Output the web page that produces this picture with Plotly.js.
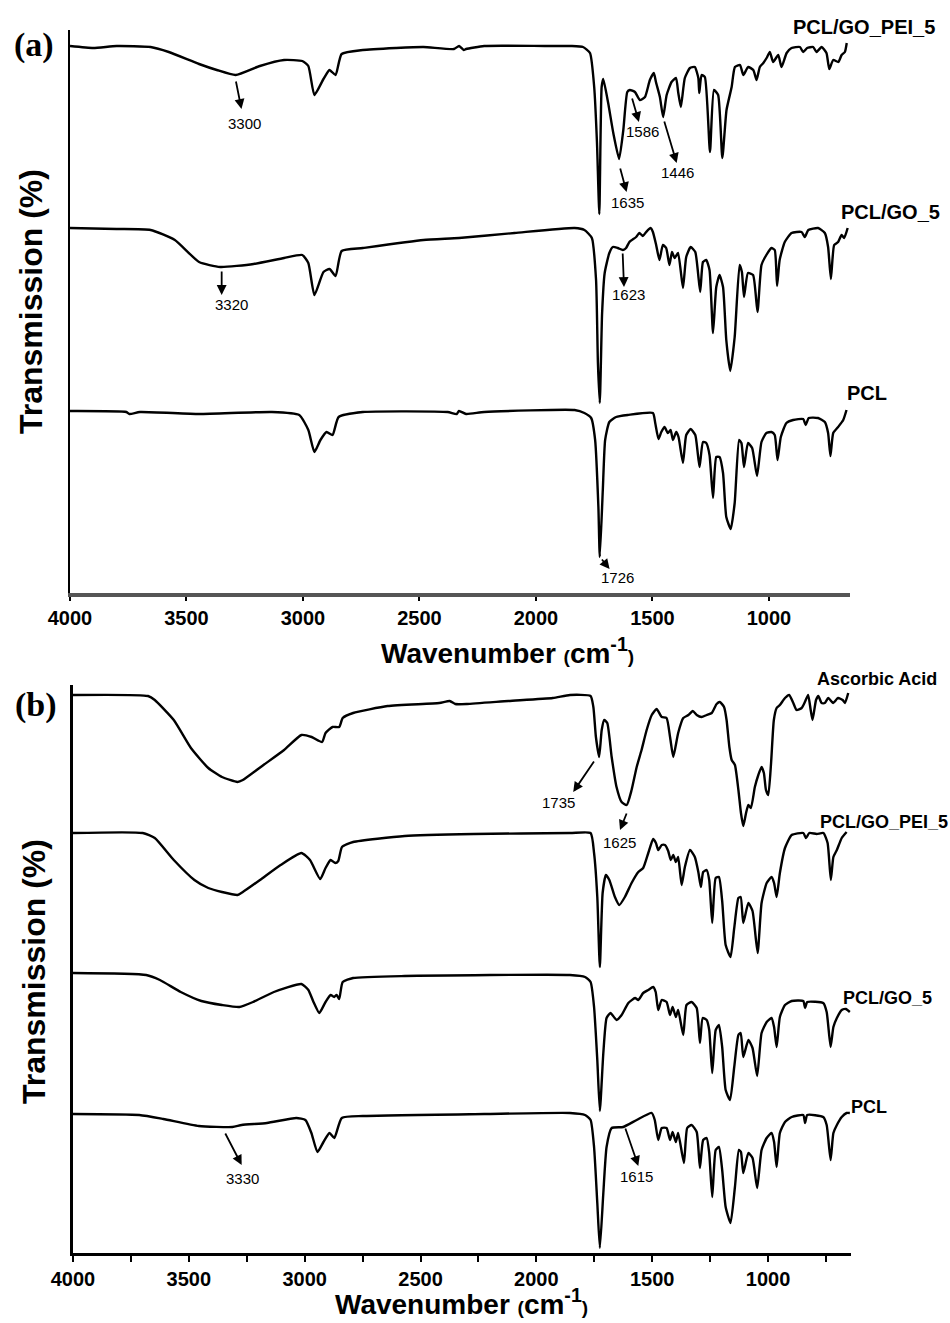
<!DOCTYPE html>
<html>
<head>
<meta charset="utf-8">
<script src="https://cdn.plot.ly/plotly-3.0.1.min.js"></script>
<style>html,body{margin:0;padding:0;background:#fff}#chart{width:950px;height:1323px}</style>
</head>
<body>
<div id="chart"></div>
<script>
// ---------- DATA (wavenumber in cm-1, transmission in offset arbitrary units) ----------
// Panel (a)
const wnA_PEI = [4000,3900,3800,3654,3576,3446,3370,3289,3185,3081,3003,2977,2951,2912,2886,2860,2834,2743,2600,2483,2352,2330,2310,2300,2222,1962,1850,1798,1768,1750,1738,1728,1718,1711,1690,1668,1643,1625,1608,1597,1575,1554,1532,1511,1494,1485,1468,1454,1439,1418,1399,1389,1378,1361,1339,1318,1303,1299,1289,1275,1253,1236,1218,1200,1182,1160,1146,1124,1110,1089,1067,1053,1039,1024,1010,996,982,960,946,924,903,867,853,836,810,796,774,753,741,724,702,688,674,666];
const tA_PEI  = [54.7,54.5,54.7,54.6,54.1,52.9,52.3,51.8,52.7,53.3,53.2,52.7,49.8,51.4,52.3,51.8,53.9,54.3,54.5,54.6,54.4,54.7,54.3,54.4,54.7,54.7,54.7,54.6,54.0,50.6,45.0,37.9,50.6,51.4,49.0,46.0,43.4,46.3,50.1,50.3,50.1,49.3,49.6,51.3,52.0,51.1,49.6,47.6,49.8,51.1,51.5,50.0,48.6,51.5,52.5,52.6,51.5,50.0,51.8,51.6,44.1,50.3,49.8,43.5,48.3,50.6,52.6,52.8,51.8,52.6,52.3,51.3,52.6,53.0,53.5,54.1,53.1,53.8,52.6,54.0,54.5,54.6,54.1,54.5,54.6,54.1,54.6,54.0,52.4,53.3,53.1,53.8,54.1,55.0];

const wnA_GO = [4000,3800,3654,3550,3446,3355,3212,3081,3003,2977,2951,2912,2886,2860,2834,2743,2483,2330,2092,1834,1792,1760,1742,1734,1726,1716,1705,1685,1670,1649,1627,1613,1599,1570,1556,1541,1527,1508,1498,1484,1470,1455,1441,1427,1416,1405,1390,1369,1355,1336,1316,1295,1283,1269,1255,1240,1226,1212,1197,1183,1166,1147,1126,1116,1107,1090,1068,1049,1032,1011,989,975,965,954,932,903,860,846,831,789,760,746,734,720,703,688,677,662];
const tA_GO  = [36.5,36.4,36.3,35.3,33.1,32.6,32.9,33.5,33.8,33.0,29.8,32.1,32.4,31.7,34.2,34.5,35.3,35.5,36.0,36.5,36.3,35.5,31.3,23.0,19.0,28.0,32.0,34.0,34.6,34.5,34.3,34.5,35.1,35.6,36.0,35.7,36.1,36.5,36.1,34.8,33.3,34.8,34.5,32.8,34.1,33.5,34.0,30.5,33.6,34.6,34.1,30.1,33.1,33.3,32.3,26.0,30.6,31.8,30.6,25.3,22.2,25.6,32.8,32.1,29.6,32.0,31.8,28.1,32.8,33.8,34.5,34.3,30.7,33.3,35.1,36.0,36.1,35.6,36.3,36.5,36.0,34.6,31.4,34.8,35.1,35.8,35.5,36.5];

const wnA_PCL = [4000,3758,3745,3700,3446,3133,3016,2977,2951,2925,2899,2873,2847,2743,2379,2340,2330,2300,2222,1834,1792,1763,1746,1732,1726,1713,1703,1685,1656,1606,1498,1488,1474,1462,1448,1434,1422,1412,1398,1388,1369,1355,1336,1316,1298,1283,1269,1255,1240,1226,1212,1197,1183,1164,1147,1128,1118,1107,1090,1072,1051,1032,1011,989,975,963,949,925,896,853,842,829,789,760,746,736,724,703,681,667];
const tA_PCL  = [18.2,18.1,17.9,18.1,17.9,18.1,17.8,16.3,14.1,15.3,16.1,15.8,17.6,18.1,18.1,17.9,18.2,17.9,18.1,18.3,18.0,17.5,15.3,8.6,3.6,10.3,15.3,17.1,17.6,17.8,18.0,17.0,15.4,16.1,16.6,16.0,16.3,15.3,16.1,15.6,13.0,15.8,16.4,15.8,12.6,15.1,15.0,13.8,9.5,13.6,13.6,12.0,7.6,6.4,9.0,15.3,15.0,12.6,15.0,14.5,11.7,15.1,16.0,16.1,15.8,13.3,15.6,17.0,17.3,17.4,16.8,17.5,17.5,17.1,16.0,13.7,16.0,16.6,17.3,18.3];

// Panel (b)
const wnB_AA = [4000,3676,3647,3565,3491,3416,3357,3290,3267,3178,3089,3014,2970,2925,2910,2880,2851,2836,2791,2642,2419,2374,2350,2300,2121,1929,1855,1766,1754,1743,1729,1718,1707,1694,1675,1654,1632,1610,1589,1567,1546,1524,1502,1481,1459,1438,1423,1409,1388,1366,1344,1325,1308,1287,1265,1243,1222,1208,1190,1179,1167,1157,1143,1128,1117,1107,1095,1085,1074,1057,1042,1028,1018,1009,999,987,975,963,949,927,909,891,877,855,841,827,816,808,793,783,769,755,740,719,698,678,668,654];
const tB_AA  = [55.8,55.7,55.3,53.3,50.5,48.5,47.6,47.1,47.3,48.8,50.3,51.8,51.6,51.1,52.0,52.6,52.6,53.5,54.0,54.7,55.0,55.2,54.9,54.9,55.2,55.5,55.8,55.7,54.6,51.6,49.6,52.3,53.3,53.0,49.6,46.6,45.1,44.8,46.3,48.6,50.3,52.3,53.8,54.4,53.6,53.5,51.6,49.6,52.0,53.5,53.8,54.2,53.8,53.6,53.8,54.0,54.9,55.1,54.6,53.3,50.6,49.3,48.8,46.3,44.0,42.7,44.0,44.8,44.5,46.6,47.8,48.6,48.0,46.3,45.8,49.0,53.3,54.5,54.8,55.5,55.8,55.0,54.3,54.5,55.1,55.8,54.3,53.3,55.3,55.7,55.0,55.0,55.5,55.0,55.5,55.3,55.0,56.0];

const wnB_PEI = [4000,3699,3647,3565,3476,3416,3357,3290,3267,3193,3104,3014,2977,2933,2910,2888,2868,2855,2839,2791,2568,2270,1855,1766,1751,1737,1726,1714,1700,1685,1661,1642,1618,1589,1560,1539,1517,1496,1484,1474,1459,1445,1431,1420,1409,1398,1388,1373,1359,1337,1316,1301,1290,1280,1265,1254,1241,1226,1212,1198,1183,1162,1146,1128,1118,1107,1085,1067,1045,1028,1006,985,974,963,949,927,898,848,836,822,790,761,743,729,718,703,682,661];
const tB_PEI  = [42.0,42.0,41.5,39.3,37.3,36.5,36.1,35.8,36.1,37.3,38.8,40.0,39.3,37.4,38.5,39.3,39.0,39.2,40.6,41.1,41.7,41.9,42.0,42.0,40.0,35.6,28.6,36.0,37.8,37.3,35.6,34.8,35.6,37.0,38.1,38.5,40.0,41.4,41.0,40.3,40.8,40.8,40.2,39.3,39.8,39.1,39.6,36.8,38.6,40.3,39.6,38.1,36.6,38.1,38.3,37.3,33.0,37.5,37.6,35.2,30.8,29.6,32.5,35.5,35.6,33.0,35.0,34.2,30.0,35.0,37.0,37.6,37.0,35.6,38.0,40.5,41.8,42.0,41.5,42.0,41.9,42.0,41.0,37.3,39.6,40.3,41.5,42.1];

const wnB_GO = [4000,3684,3625,3535,3446,3357,3282,3223,3133,3014,2984,2962,2937,2910,2888,2873,2862,2851,2836,2791,2568,1855,1790,1766,1751,1737,1726,1711,1697,1680,1654,1632,1603,1574,1560,1539,1517,1496,1485,1474,1459,1438,1423,1412,1398,1388,1366,1352,1330,1308,1294,1282,1265,1254,1241,1226,1212,1198,1183,1164,1146,1128,1118,1107,1085,1067,1047,1028,1006,985,974,963,949,927,898,848,840,831,762,747,730,718,703,682,664,647];
const tB_GO  = [28.0,27.8,27.3,26.1,25.2,24.8,24.6,25.1,26.1,26.9,26.3,25.1,24.0,25.1,25.8,25.6,25.8,25.4,27.1,27.5,27.7,27.8,27.6,27.1,24.6,19.3,14.2,20.0,23.5,24.0,23.3,23.8,25.0,25.5,25.3,26.0,26.3,26.6,26.1,24.3,25.3,25.1,23.8,24.6,23.6,24.3,21.8,24.8,25.1,24.5,21.0,23.5,23.3,22.3,18.0,22.3,22.8,20.6,16.3,15.3,18.6,21.8,22.0,19.6,21.3,20.5,17.7,22.0,23.1,23.5,22.6,20.6,23.6,24.8,25.2,25.2,24.5,25.1,25.0,24.1,20.6,22.6,23.5,24.3,24.4,24.1];

const wnB_PCL = [4000,3714,3610,3457,3312,3272,3163,3036,2997,2971,2945,2919,2893,2872,2840,2749,2225,1855,1790,1766,1751,1737,1726,1711,1697,1675,1625,1567,1502,1489,1474,1459,1438,1423,1412,1398,1388,1363,1349,1330,1308,1294,1280,1265,1254,1241,1226,1212,1198,1183,1162,1143,1126,1117,1107,1085,1067,1047,1028,1006,985,974,963,949,927,898,848,840,831,762,747,730,718,703,682,661,647];
const tB_PCL  = [13.9,13.8,13.4,12.7,12.6,12.8,13.0,13.5,13.3,12.0,10.1,11.1,12.0,11.5,13.5,13.7,13.9,14.0,13.8,13.3,10.6,5.0,0.5,6.0,10.6,12.5,12.6,13.3,14.0,13.3,11.3,12.5,12.5,11.3,12.1,11.1,12.0,9.0,12.5,12.8,12.1,8.5,11.3,11.5,10.0,5.6,10.3,10.6,8.3,4.6,3.0,6.6,10.3,10.1,8.0,10.0,9.5,6.5,10.3,11.5,12.0,11.1,8.6,12.0,13.1,13.6,13.8,13.0,13.8,13.6,12.8,9.3,12.0,12.8,13.6,14.0,14.0];

const namesA = ['PCL/GO_PEI_5', 'PCL/GO_5', 'PCL'];
const namesB = ['Ascorbic Acid', 'PCL/GO_PEI_5', 'PCL/GO_5', 'PCL'];
const peakTextA = ['3300', '3320', '1635', '1586', '1446', '1623', '1726'];
const peakTextB = ['1735', '1625', '3330', '1615'];

// ---------- LAYOUT CONFIG ----------
const FW = 950, FH = 1323;
const px = x => x / FW, py = y => 1 - y / FH;
const SANS = 'Liberation Sans, Arial, sans-serif';
const SERIF = 'Liberation Serif, Times New Roman, serif';

const lineStyle = {color: '#000', width: 2.4, shape: 'spline', smoothing: 0.5};
const traces = [];
[[wnA_PEI, tA_PEI], [wnA_GO, tA_GO], [wnA_PCL, tA_PCL]].forEach((s, i) => {
  traces.push({x: s[0], y: s[1], type: 'scatter', mode: 'lines', name: namesA[i], line: lineStyle, xaxis: 'x', yaxis: 'y', hoverinfo: 'skip'});
});
[[wnB_AA, tB_AA], [wnB_PEI, tB_PEI], [wnB_GO, tB_GO], [wnB_PCL, tB_PCL]].forEach((s, i) => {
  traces.push({x: s[0], y: s[1], type: 'scatter', mode: 'lines', name: namesB[i], line: lineStyle, xaxis: 'x2', yaxis: 'y2', hoverinfo: 'skip'});
});

// arrow geometry: [tailX, tailY, headX, headY, textX, textY]
const arrowsA = [
  [3289, 51.3, 3264, 48.4, 3250, 46.9],
  [3349, 32.3, 3349, 29.8, 3305, 28.8],
  [1640, 42.6, 1611, 40.1, 1608, 39.0],
  [1589, 49.6, 1558, 47.1, 1541, 46.1],
  [1451, 47.3, 1396, 43.0, 1394, 42.0],
  [1628, 34.1, 1622, 30.6, 1604, 29.8],
  [1722, 3.5, 1684, 2.4, 1651, 1.5]
];
const arrowsB = [
  [1747, 49.3, 1841, 46.1, 1905, 45.1],
  [1608, 44.1, 1639, 42.3, 1643, 41.1],
  [3346, 12.1, 3272, 8.8, 3267, 7.5],
  [1618, 12.6, 1560, 8.7, 1566, 7.7]
];

const ann = [];
function addArrows(list, labels, xr, yr) {
  list.forEach((a, i) => {
    ann.push({xref: xr, yref: yr, axref: xr, ayref: yr, x: a[2], y: a[3], ax: a[0], ay: a[1],
      text: '', showarrow: true, arrowhead: 2, arrowsize: 1.1, arrowwidth: 1.8, arrowcolor: '#000', standoff: 0, startstandoff: 0});
    ann.push({xref: xr, yref: yr, x: a[4], y: a[5], text: labels[i], showarrow: false,
      xanchor: 'center', yanchor: 'middle', font: {family: SANS, size: 15, color: '#000'}});
  });
}
addArrows(arrowsA, peakTextA, 'x', 'y');
addArrows(arrowsB, peakTextB, 'x2', 'y2');

// series labels [x, y] in pixels
const labPosA = [[864, 27], [890, 212], [867, 393]];
const labPosB = [[877, 679], [884, 822], [887, 998], [869, 1107]];
namesA.forEach((n, i) => ann.push({xref: 'paper', yref: 'paper', x: px(labPosA[i][0]), y: py(labPosA[i][1]), text: n, showarrow: false,
  xanchor: 'center', yanchor: 'middle', font: {family: SANS, size: 20, color: '#000', weight: 'bold'}}));
namesB.forEach((n, i) => ann.push({xref: 'paper', yref: 'paper', x: px(labPosB[i][0]), y: py(labPosB[i][1]), text: n, showarrow: false,
  xanchor: 'center', yanchor: 'middle', font: {family: SANS, size: 18, color: '#000', weight: 'bold'}}));

// panel letters & axis titles
const xTitle = 'Wavenumber <span style="font-size:19px">(</span>cm<sup>-1</sup><span style="font-size:19px">)</span>';
const yTitle = 'Transmission (%)';
ann.push({xref: 'paper', yref: 'paper', x: px(34), y: py(45), text: '(a)', showarrow: false, xanchor: 'center', yanchor: 'middle',
  font: {family: SERIF, size: 34, color: '#000', weight: 'bold'}});
ann.push({xref: 'paper', yref: 'paper', x: px(36), y: py(705), text: '(b)', showarrow: false, xanchor: 'center', yanchor: 'middle',
  font: {family: SERIF, size: 34, color: '#000', weight: 'bold'}});
ann.push({xref: 'paper', yref: 'paper', x: px(31), y: py(302), text: yTitle, textangle: -90, showarrow: false, xanchor: 'center', yanchor: 'middle',
  font: {family: SANS, size: 32, color: '#000', weight: 'bold'}});
ann.push({xref: 'paper', yref: 'paper', x: px(34), y: py(972), text: yTitle, textangle: -90, showarrow: false, xanchor: 'center', yanchor: 'middle',
  font: {family: SANS, size: 32, color: '#000', weight: 'bold'}});
ann.push({xref: 'paper', yref: 'paper', x: px(507), y: py(651), text: xTitle, showarrow: false, xanchor: 'center', yanchor: 'middle',
  font: {family: SANS, size: 28, color: '#000', weight: 'bold'}});
ann.push({xref: 'paper', yref: 'paper', x: px(461), y: py(1302), text: xTitle, showarrow: false, xanchor: 'center', yanchor: 'middle',
  font: {family: SANS, size: 28, color: '#000', weight: 'bold'}});

const tickFont = {family: SANS, size: 20, color: '#000', weight: 'bold'};
const layout = {
  width: FW, height: FH,
  margin: {l: 0, r: 0, t: 0, b: 0},
  paper_bgcolor: '#fff', plot_bgcolor: '#fff',
  showlegend: false,
  xaxis: {domain: [px(70), px(850)], range: [4000, 652], anchor: 'y', showline: true, linecolor: '#555', linewidth: 4,
    ticks: 'outside', ticklen: 4, tickwidth: 2, tickcolor: '#000', dtick: 500, tick0: 0, tickfont: tickFont,
    showgrid: false, zeroline: false, fixedrange: true},
  yaxis: {domain: [py(593), py(30)], range: [0, 56.3], anchor: 'x', showline: true, linecolor: '#000', linewidth: 2,
    showticklabels: false, ticks: '', showgrid: false, zeroline: false, fixedrange: true},
  xaxis2: {domain: [px(73), px(851)], range: [4000, 642], anchor: 'y2', showline: true, linecolor: '#000', linewidth: 3,
    ticks: 'outside', ticklen: 6, tickwidth: 2, tickcolor: '#000', dtick: 500, tick0: 0, tickfont: tickFont,
    minor: {dtick: 250, ticks: 'outside', ticklen: 6, tickwidth: 2, tickcolor: '#000', showgrid: false},
    showgrid: false, zeroline: false, fixedrange: true},
  yaxis2: {domain: [py(1253), py(685)], range: [0, 56.8], anchor: 'x2', showline: true, linecolor: '#000', linewidth: 3,
    showticklabels: false, ticks: '', showgrid: false, zeroline: false, fixedrange: true},
  annotations: ann
};

Plotly.newPlot('chart', traces, layout, {displayModeBar: false, staticPlot: true});
</script>
</body>
</html>
